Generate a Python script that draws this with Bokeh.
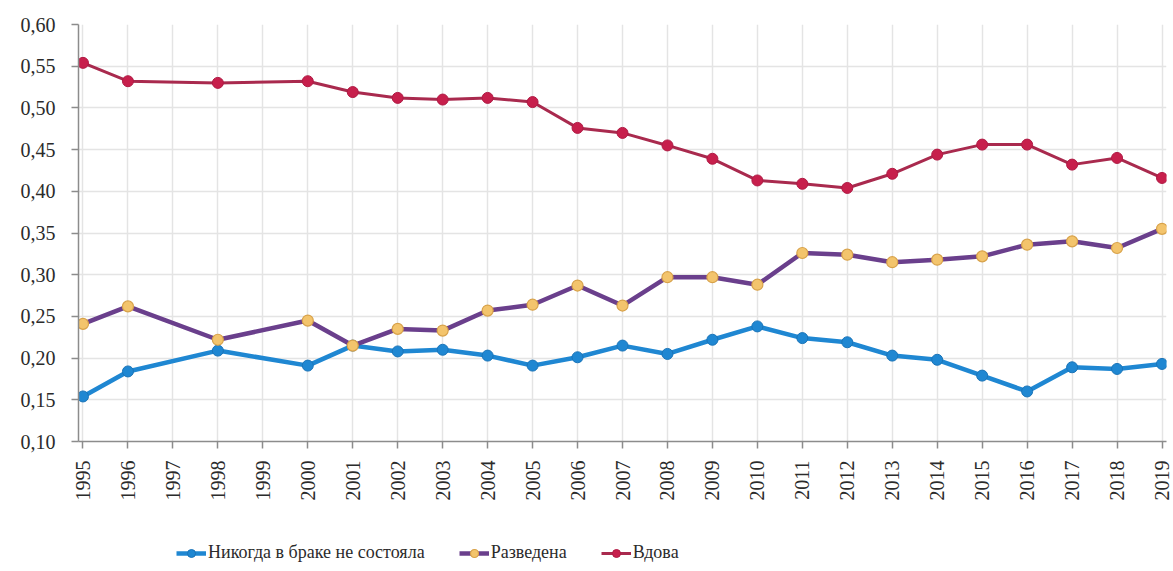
import math
from bokeh.plotting import figure
from bokeh.layouts import column
from bokeh.models import FixedTicker, CustomJSTickFormatter, Legend, LegendItem, Range1d
from bokeh.embed import file_html
from bokeh.resources import INLINE

years = [1995, 1996, 1998, 2000, 2001, 2002, 2003, 2004, 2005, 2006, 2007, 2008,
         2009, 2010, 2011, 2012, 2013, 2014, 2015, 2016, 2017, 2018, 2019]
tick_years = list(range(1995, 2020))

never_married = [0.154, 0.184, 0.209, 0.191, 0.215, 0.208, 0.210, 0.203, 0.191, 0.201, 0.215, 0.205,
                 0.222, 0.238, 0.224, 0.219, 0.203, 0.198, 0.179, 0.160, 0.189, 0.187, 0.193]
divorced = [0.241, 0.262, 0.222, 0.245, 0.215, 0.235, 0.233, 0.257, 0.264, 0.287, 0.263, 0.297,
            0.297, 0.288, 0.326, 0.324, 0.315, 0.318, 0.322, 0.336, 0.340, 0.332, 0.355]
widowed = [0.554, 0.532, 0.530, 0.532, 0.519, 0.512, 0.510, 0.512, 0.507, 0.476, 0.470, 0.455,
           0.439, 0.413, 0.409, 0.404, 0.421, 0.444, 0.456, 0.456, 0.432, 0.440, 0.416]
labels = ["Никогда в браке не состояла", "Разведена", "Вдова"]

FONT = "Liberation Serif"
PAD = 0.1

blue = "#1f87d2"
purple = "#6a3f8c"
yellow = "#f3c46c"
red_line = "#a92a4e"
red = "#c71f4c"

series = [
    (never_married, dict(line_color=blue, line_width=4.5),
     dict(size=11, fill_color=blue, line_color="#1a74b8", line_width=1)),
    (divorced, dict(line_color=purple, line_width=4.5),
     dict(size=11, fill_color=yellow, line_color="#d8a24a", line_width=1.2)),
    (widowed, dict(line_color=red_line, line_width=3),
     dict(size=11, fill_color=red, line_color="#b01a44", line_width=1)),
]

p = figure(width=1173, height=525, output_backend="svg", toolbar_location=None,
           x_range=Range1d(1995 - PAD, 2019 + PAD), y_range=Range1d(0.10, 0.60),
           min_border_left=78, min_border_right=7, min_border_top=24, min_border_bottom=84)
p.outline_line_color = None
p.background_fill_color = "white"
p.border_fill_color = "white"

p.xgrid.grid_line_color = "#e4e4e4"
p.ygrid.grid_line_color = "#e4e4e4"
p.xgrid.grid_line_width = 1.5
p.ygrid.grid_line_width = 1.5

p.xaxis.ticker = FixedTicker(ticks=tick_years)
p.yaxis.ticker = FixedTicker(ticks=[0.10, 0.15, 0.20, 0.25, 0.30, 0.35, 0.40, 0.45, 0.50, 0.55, 0.60])
p.yaxis.formatter = CustomJSTickFormatter(code="return tick.toFixed(2).replace('.', ',');")
p.xaxis.formatter = CustomJSTickFormatter(code="return tick.toFixed(0);")
p.xaxis.major_label_orientation = math.pi / 2
for ax in (p.xaxis, p.yaxis):
    ax.axis_line_color = "#8c8c8c"
    ax.axis_line_width = 1.5
    ax.major_tick_line_color = "#8c8c8c"
    ax.major_tick_line_width = 1.5
    ax.major_tick_in = 0
    ax.minor_tick_line_color = None
    ax.major_label_text_font = FONT
    ax.major_label_text_color = "#2b2b2b"
p.yaxis.major_tick_out = 7
p.xaxis.major_tick_out = 7
p.yaxis.major_label_text_font_size = "20px"
p.xaxis.major_label_text_font_size = "20px"
p.yaxis.major_label_standoff = 16
p.xaxis.major_label_standoff = 12

for vals, lkw, mkw in series:
    p.line(years, vals, **lkw)
    p.scatter(years, vals, **mkw)

# legend strip below the chart (its glyphs lie outside its visible range)
lg = figure(width=1173, height=46, output_backend="svg", toolbar_location=None,
            x_range=Range1d(0, 1), y_range=Range1d(0, 1),
            x_axis_location=None, y_axis_location=None,
            min_border_left=0, min_border_right=0, min_border_top=0, min_border_bottom=0)
lg.grid.visible = False
lg.outline_line_color = None
lg.border_fill_color = "white"
items = []
for (vals, lkw, mkw), lab in zip(series, labels):
    rl = lg.line(years, vals, **lkw)
    rm = lg.scatter(years, vals, **mkw)
    items.append(LegendItem(label=lab, renderers=[rl, rm]))
legend = Legend(items=items, orientation="horizontal", location=(98, 8))
legend.label_text_font = FONT
legend.label_text_font_size = "18px"
legend.label_text_color = "#2b2b2b"
legend.glyph_width = 30
legend.label_standoff = 2
legend.spacing = 34
legend.padding = 2
legend.margin = 0
legend.border_line_color = None
legend.background_fill_alpha = 0
lg.add_layout(legend, "center")

layout = column(p, lg, spacing=0)
open("out.html", "w").write(file_html(layout, INLINE))
